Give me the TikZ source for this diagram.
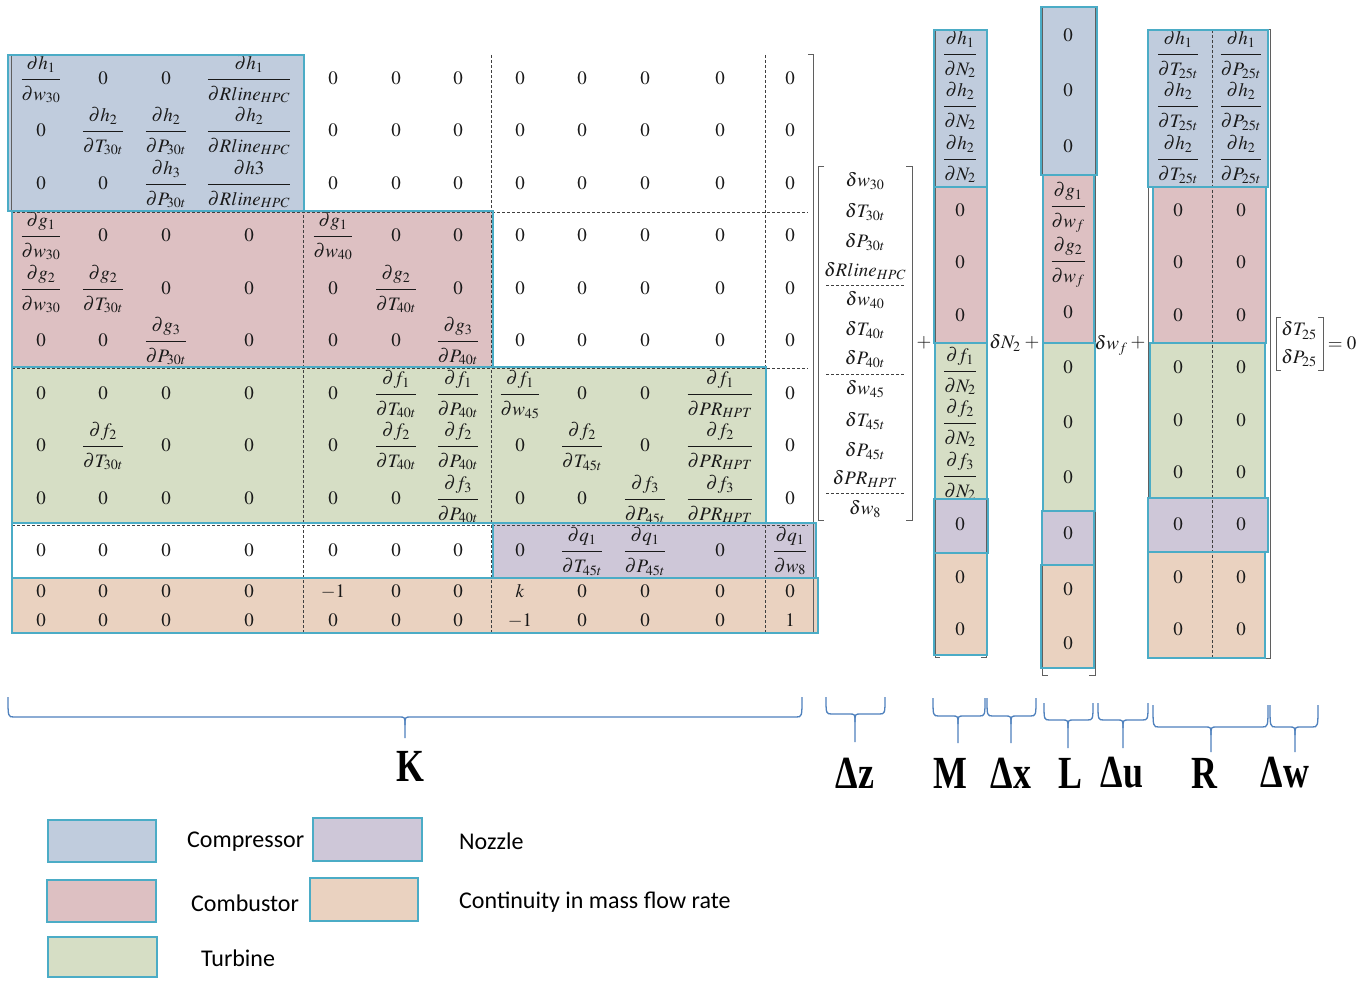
\documentclass[tikz,border=0pt]{standalone}
\usepackage{amsmath}
\usepackage{mathptmx}
\usepackage[no-math]{fontspec}
\setmainfont{Liberation Serif}
\newfontfamily\legendfont{Carlito}

\definecolor{cmpfill}{RGB}{192,204,221}
\definecolor{cmbfill}{RGB}{221,192,194}
\definecolor{trbfill}{RGB}{214,222,197}
\definecolor{nozfill}{RGB}{206,199,216}
\definecolor{cntfill}{RGB}{234,210,192}
\definecolor{edgecol}{RGB}{75,172,198}
\definecolor{bracecol}{RGB}{79,129,189}
\definecolor{brkcol}{RGB}{95,95,95}
\definecolor{inkcol}{RGB}{25,25,25}

% partial derivative entry, numerator and denominator set a little apart
\newcommand\jac[2]{\dfrac{\raisebox{2.5pt}{$\partial #1$}}{\raisebox{-2.5pt}{$\partial #2$}}}
\newcommand\entsize{\fontsize{19}{23}\selectfont}

% one row of the Jacobian K: index, centre y, twelve entries
\newcommand\krow[3]{%
  \foreach \e [count=\c] in {#3}{%
    \pgfmathsetmacro\xx{{41,103,166,249,333,396,458,520,582,645,720,790}[\c-1]}%
    \node[ent] (k#1-\c) at (\xx,#2+6.5) {$\e$};}}

% a column of entries: name prefix, x, list of y/entry
\newcommand\cvec[3]{%
  \foreach \yy/\e [count=\c] in {#3}{%
    \node[ent] (#1\c) at (#2,\yy+6.5) {$\e$};}}

% square brackets: x, top, bottom, serif length
\newcommand\lbrk[4]{\draw[brkt] (#1+#4,#2) -- (#1,#2) -- (#1,#3) -- (#1+#4,#3);}
\newcommand\rbrk[4]{\draw[brkt] (#1-#4,#2) -- (#1,#2) -- (#1,#3) -- (#1-#4,#3);}

% under-brace: left x, right x, tip x, top y, bar y, tip y
\newcommand\ubr[6]{%
  \draw[ubrace] (#1,#4) .. controls (#1,#5) .. (#1+6,#5) -- (#3-6,#5)
     .. controls (#3,#5) .. (#3,#5+8) -- (#3,#6);
  \draw[ubrace] (#2,#4) .. controls (#2,#5) .. (#2-6,#5) -- (#3+6,#5)
     .. controls (#3,#5) .. (#3,#5+8);}

\begin{document}
\begin{tikzpicture}[x=1pt,y=-1pt,
  ent/.style={inner sep=0pt, anchor=base, text=inkcol, font=\entsize},
  sym/.style={inner sep=0pt, text=inkcol, font=\entsize},
  blk/.style={draw=edgecol, line width=1.8pt},
  sep/.style={draw=black!75, line width=0.7pt, dash pattern=on 3pt off 2pt},
  brkt/.style={draw=brkcol, line width=1pt},
  ubrace/.style={draw=bracecol, line width=1.3pt},
  biglbl/.style={inner sep=0pt, font=\fontsize{46}{50}\selectfont\bfseries},
  legtxt/.style={inner sep=0pt, anchor=west, font=\legendfont\fontsize{24}{28}\selectfont}]
\useasboundingbox (0,0) rectangle (1359,981);
\fill[white] (0,0) rectangle (1359,981);

% ---------------- Jacobian K ----------------
\fill[cmpfill] (8,55) rectangle (304,211);
\krow{1}{78}{{\jac{h_1}{w_{30}}},0,0,{\jac{h_1}{Rline_{HPC}}},0,0,0,0,0,0,0,0}
\krow{2}{130}{0,{\jac{h_2}{T_{30t}}},{\jac{h_2}{P_{30t}}},{\jac{h_2}{Rline_{HPC}}},0,0,0,0,0,0,0,0}
\krow{3}{183}{0,0,{\jac{h_3}{P_{30t}}},{\jac{h3}{Rline_{HPC}}},0,0,0,0,0,0,0,0}
\fill[cmbfill] (12,211) rectangle (493,367);
\krow{4}{235}{{\jac{g_1}{w_{30}}},0,0,0,{\jac{g_1}{w_{40}}},0,0,0,0,0,0,0}
\krow{5}{288}{{\jac{g_2}{w_{30}}},{\jac{g_2}{T_{30t}}},0,0,0,{\jac{g_2}{T_{40t}}},0,0,0,0,0,0}
\krow{6}{340}{0,0,{\jac{g_3}{P_{30t}}},0,0,0,{\jac{g_3}{P_{40t}}},0,0,0,0,0}
\fill[trbfill] (12,367) rectangle (766,523);
\krow{7}{393}{0,0,0,0,0,{\jac{f_1}{T_{40t}}},{\jac{f_1}{P_{40t}}},{\jac{f_1}{w_{45}}},0,0,{\jac{f_1}{PR_{HPT}}},0}
\krow{8}{445}{0,{\jac{f_2}{T_{30t}}},0,0,0,{\jac{f_2}{T_{40t}}},{\jac{f_2}{P_{40t}}},0,{\jac{f_2}{T_{45t}}},0,{\jac{f_2}{PR_{HPT}}},0}
\krow{9}{498}{0,0,0,0,0,0,{\jac{f_3}{P_{40t}}},0,0,{\jac{f_3}{P_{45t}}},{\jac{f_3}{PR_{HPT}}},0}
\fill[nozfill] (493,523) rectangle (816,578);
\krow{10}{550}{0,0,0,0,0,0,0,0,{\jac{q_1}{T_{45t}}},{\jac{q_1}{P_{45t}}},0,{\jac{q_1}{w_8}}}
\fill[cntfill] (12,578) rectangle (818,633);
\krow{11}{591}{0,0,0,0,-1,0,0,k,0,0,0,0}
\krow{12}{620}{0,0,0,0,0,0,0,-1,0,0,0,1}

% block separators of K
\foreach \yy in {212,368,525,578} \draw[sep] (12,\yy) -- (808,\yy);
\foreach \xx in {303,491,765} \draw[sep] (\xx,55) -- (\xx,633);
\lbrk{11}{55}{633}{5}
\rbrk{813}{55}{633}{5}

% ---------------- state perturbation vector ----------------
\cvec{z}{865}{180/{\delta w_{30}},211/{\delta T_{30t}},241/{\delta P_{30t}},270/{\delta Rline_{HPC}},299/{\delta w_{40}},329/{\delta T_{40t}},358/{\delta P_{40t}},388/{\delta w_{45}},420/{\delta T_{45t}},450/{\delta P_{45t}},478/{\delta PR_{HPT}},508/{\delta w_8}}
\foreach \yy in {285,374,493} \draw[sep] (826,\yy) -- (905,\yy);
\lbrk{818}{167}{520}{6}
\rbrk{912}{167}{520}{6}
\node[sym] (plus1) at (924,343) {$+$};

% ---------------- M column ----------------
\fill[cmpfill] (934,30) rectangle (987,187);
\fill[cmbfill] (934,187) rectangle (987,343);
\fill[trbfill] (935,343) rectangle (987,499);
\fill[nozfill] (934,499) rectangle (988,553);
\fill[cntfill] (934,553) rectangle (987,655);
\cvec{m}{960}{53/{\jac{h_1}{N_2}},105/{\jac{h_2}{N_2}},158/{\jac{h_2}{N_2}},210/0,262/0,315/0,370/{\jac{f_1}{N_2}},422/{\jac{f_2}{N_2}},475/{\jac{f_3}{N_2}},524/0,577/0,629/0}
\lbrk{935}{30}{657}{5}
\rbrk{986}{30}{657}{5}
\node[sym] (dN) at (1005,343) {$\delta N_2$};
\node[sym] (plus2) at (1032,343) {$+$};

% ---------------- L column ----------------
\fill[cmpfill] (1041,7) rectangle (1097,175);
\fill[cmbfill] (1043,175) rectangle (1094,343);
\fill[trbfill] (1043,343) rectangle (1095,511);
\fill[nozfill] (1042,511) rectangle (1094,565);
\fill[cntfill] (1041,565) rectangle (1094,668);
\cvec{l}{1068}{35/0,90/0,146/0,205/{\jac{g_1}{w_f}},260/{\jac{g_2}{w_f}},312/0,367/0,422/0,477/0,533/0,589/0,643/0}
\lbrk{1042}{8}{675}{6}
\rbrk{1095}{8}{675}{6}
\node[sym] (dwf) at (1111,345) {$\delta w_f$};
\node[sym] (plus3) at (1138,343) {$+$};

% ---------------- R matrix ----------------
\fill[cmpfill] (1148,30) rectangle (1268,187);
\fill[cmbfill] (1153,187) rectangle (1266,343);
\fill[trbfill] (1150,343) rectangle (1265,498);
\fill[nozfill] (1148,498) rectangle (1268,552);
\fill[cntfill] (1148,552) rectangle (1265,658);
\cvec{ra}{1178}{53/{\jac{h_1}{T_{25t}}},105/{\jac{h_2}{T_{25t}}},158/{\jac{h_2}{T_{25t}}},210/0,262/0,315/0,367/0,420/0,472/0,524/0,577/0,629/0}
\cvec{rb}{1241}{53/{\jac{h_1}{P_{25t}}},105/{\jac{h_2}{P_{25t}}},158/{\jac{h_2}{P_{25t}}},210/0,262/0,315/0,367/0,420/0,472/0,524/0,577/0,629/0}
\draw[sep] (1212,30) -- (1212,658);
\foreach \yy in {343,498} \draw[sep] (1150,\yy) -- (1266,\yy);
\lbrk{1148}{30}{658}{5}
\rbrk{1270}{30}{658}{5}

% health parameter vector
\node[ent] (dT25) at (1299,336) {$\delta T_{25}$};
\node[ent] (dP25) at (1299,363) {$\delta P_{25}$};
\lbrk{1276}{318}{370}{5}
\rbrk{1323}{318}{370}{5}
\node[sym] (eqz) at (1342,343) {$=0$};

% ---------------- block borders ----------------
\draw[blk] (8,55) rectangle (304,211);
\draw[blk] (12,211) rectangle (493,367);
\draw[blk] (12,367) rectangle (766,523);
\draw[blk] (12,523) rectangle (493,578);
\draw[blk] (493,523) rectangle (816,578);
\draw[blk] (12,578) rectangle (818,633);

\draw[blk] (934,30) rectangle (987,187);
\draw[blk] (934,187) rectangle (987,343);
\draw[blk] (935,343) rectangle (987,499);
\draw[blk] (934,499) rectangle (988,553);
\draw[blk] (934,553) rectangle (987,655);

\draw[blk] (1041,7) rectangle (1097,175);
\draw[blk] (1043,175) rectangle (1094,343);
\draw[blk] (1043,343) rectangle (1095,511);
\draw[blk] (1042,511) rectangle (1094,565);
\draw[blk] (1041,565) rectangle (1094,668);

\draw[blk] (1148,30) rectangle (1268,187);
\draw[blk] (1153,187) rectangle (1266,343);
\draw[blk] (1150,343) rectangle (1265,498);
\draw[blk] (1148,498) rectangle (1268,552);
\draw[blk] (1148,552) rectangle (1265,658);

% ---------------- under-braces and names ----------------
\ubr{8}{802}{405}{697}{717}{738}
\ubr{826}{885}{855}{697}{714}{742}
\ubr{933}{985}{958}{698}{716}{743}
\ubr{987}{1036}{1011}{698}{716}{743}
\ubr{1044}{1093}{1068}{703}{720}{748}
\ubr{1098}{1148}{1123}{703}{720}{748}
\ubr{1153}{1268}{1211}{705}{727}{752}
\ubr{1270}{1318}{1295}{705}{727}{752}

\node[biglbl] (nK)  at (410,766)  {\scalebox{0.78}[1]{K}};
\node[biglbl] (nz)  at (855,773)  {\scalebox{0.78}[1]{Δz}};
\node[biglbl] (nM)  at (950,773)  {\scalebox{0.78}[1]{M}};
\node[biglbl] (nx)  at (1011,773) {\scalebox{0.78}[1]{Δx}};
\node[biglbl] (nL)  at (1070,773) {\scalebox{0.78}[1]{L}};
\node[biglbl] (nu)  at (1122,773) {\scalebox{0.78}[1]{Δu}};
\node[biglbl] (nR)  at (1204,773) {\scalebox{0.78}[1]{R}};
\node[biglbl] (nw)  at (1285,773) {\scalebox{0.78}[1]{Δw}};

% ---------------- legend ----------------
\draw[blk, fill=cmpfill] (48,820) rectangle (156,862);
\draw[blk, fill=nozfill] (313,818) rectangle (422,861);
\draw[blk, fill=cmbfill] (47,880) rectangle (156,922);
\draw[blk, fill=cntfill] (310,878) rectangle (418,921);
\draw[blk, fill=trbfill] (48,937) rectangle (157,977);
\node[legtxt] (lgA) at (187,842) {Compressor};
\node[legtxt] (lgB) at (191,903) {Combustor};
\node[legtxt] (lgC) at (201,958) {Turbine};
\node[legtxt] (lgD) at (459,841) {Nozzle};
\node[legtxt] (lgE) at (459,902) {Continuity in mass flow rate};
\end{tikzpicture}
\end{document}
